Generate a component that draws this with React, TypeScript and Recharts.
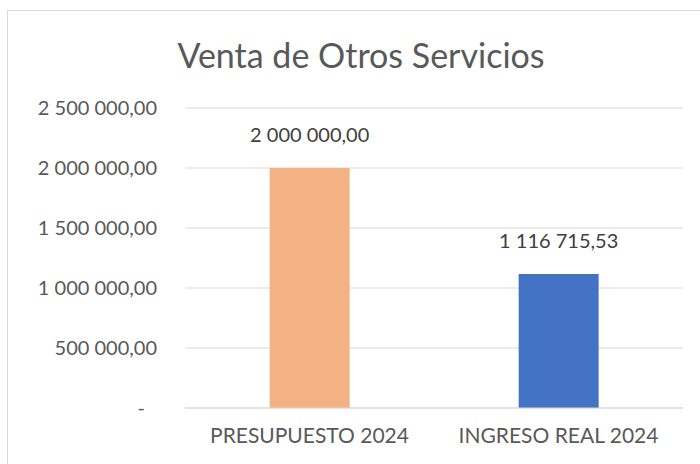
import React from 'react';
import { BarChart, Bar, XAxis, YAxis, CartesianGrid, Cell, LabelList } from 'recharts';

// Datos
const categories = ['PRESUPUESTO 2024', 'INGRESO REAL 2024'];
const values = [2000000, 1116715.53];
const barColors = ['#F4B183', '#4472C4'];
const yTicks = [0, 500000, 1000000, 1500000, 2000000, 2500000];

const data = categories.map((name, i) => ({ name, valor: values[i] }));

const FONT = 'Lato, "Open Sans", sans-serif';

// formato tipo Excel: 1 116 715,53
const fmt = (v: number) => {
  const [ent, dec] = v.toFixed(2).split('.');
  return ent.replace(/\B(?=(\d{3})+(?!\d))/g, ' ') + ',' + dec;
};

const YTick = (props: any) => {
  const { x, y, payload } = props;
  const v = payload.value;
  return (
    <text x={v === 0 ? x - 12 : x} y={y} dy="0.35em" textAnchor="end" fill="#595959" fontSize={20} fontFamily={FONT}>
      {v === 0 ? '-' : fmt(v)}
    </text>
  );
};

// etiqueta de valor sin corte de línea
const ValueLabel = (props: any) => {
  const { x, y, width, value } = props;
  return (
    <text x={x + width / 2} y={y - 33} dy="0.35em" textAnchor="middle" fill="#404040" fontSize={20} fontFamily={FONT}>
      {fmt(Number(value))}
    </text>
  );
};

export default function App() {
  return (
    <div style={{ position: 'absolute', left: 0, top: 0, width: 700, height: 464, overflow: 'hidden', background: '#fff' }}>
      {/* marco del gráfico */}
      <div style={{ position: 'absolute', left: 7, top: 10, width: 720, height: 480, border: '1.5px solid #d9d9d9' }} />
      <div
        style={{
          position: 'absolute', left: 0, top: 33, width: 722, textAlign: 'center',
          fontFamily: FONT, fontSize: 34, lineHeight: '44px', color: '#595959',
        }}
      >
        Venta de Otros Servicios
      </div>
      <div style={{ position: 'absolute', left: 0, top: 0 }}>
        <BarChart width={700} height={464} data={data} margin={{ top: 108, right: 17, bottom: 0, left: 0 }} barCategoryGap="34%">
          <CartesianGrid vertical={false} stroke="#d9d9d9" />
          <XAxis
            dataKey="name"
            height={56}
            axisLine={{ stroke: '#d9d9d9' }}
            tickLine={false}
            tickMargin={14}
            tick={{ fill: '#595959', fontSize: 21, fontFamily: FONT }}
          />
          <YAxis
            width={185}
            domain={[0, 2500000]}
            ticks={yTicks}
            axisLine={false}
            tickLine={false}
            tickMargin={22}
            tick={<YTick />}
          />
          <Bar dataKey="valor" isAnimationActive={false}>
            {data.map((d, i) => (
              <Cell key={d.name} fill={barColors[i]} />
            ))}
            <LabelList dataKey="valor" content={<ValueLabel />} />
          </Bar>
        </BarChart>
      </div>
    </div>
  );
}
